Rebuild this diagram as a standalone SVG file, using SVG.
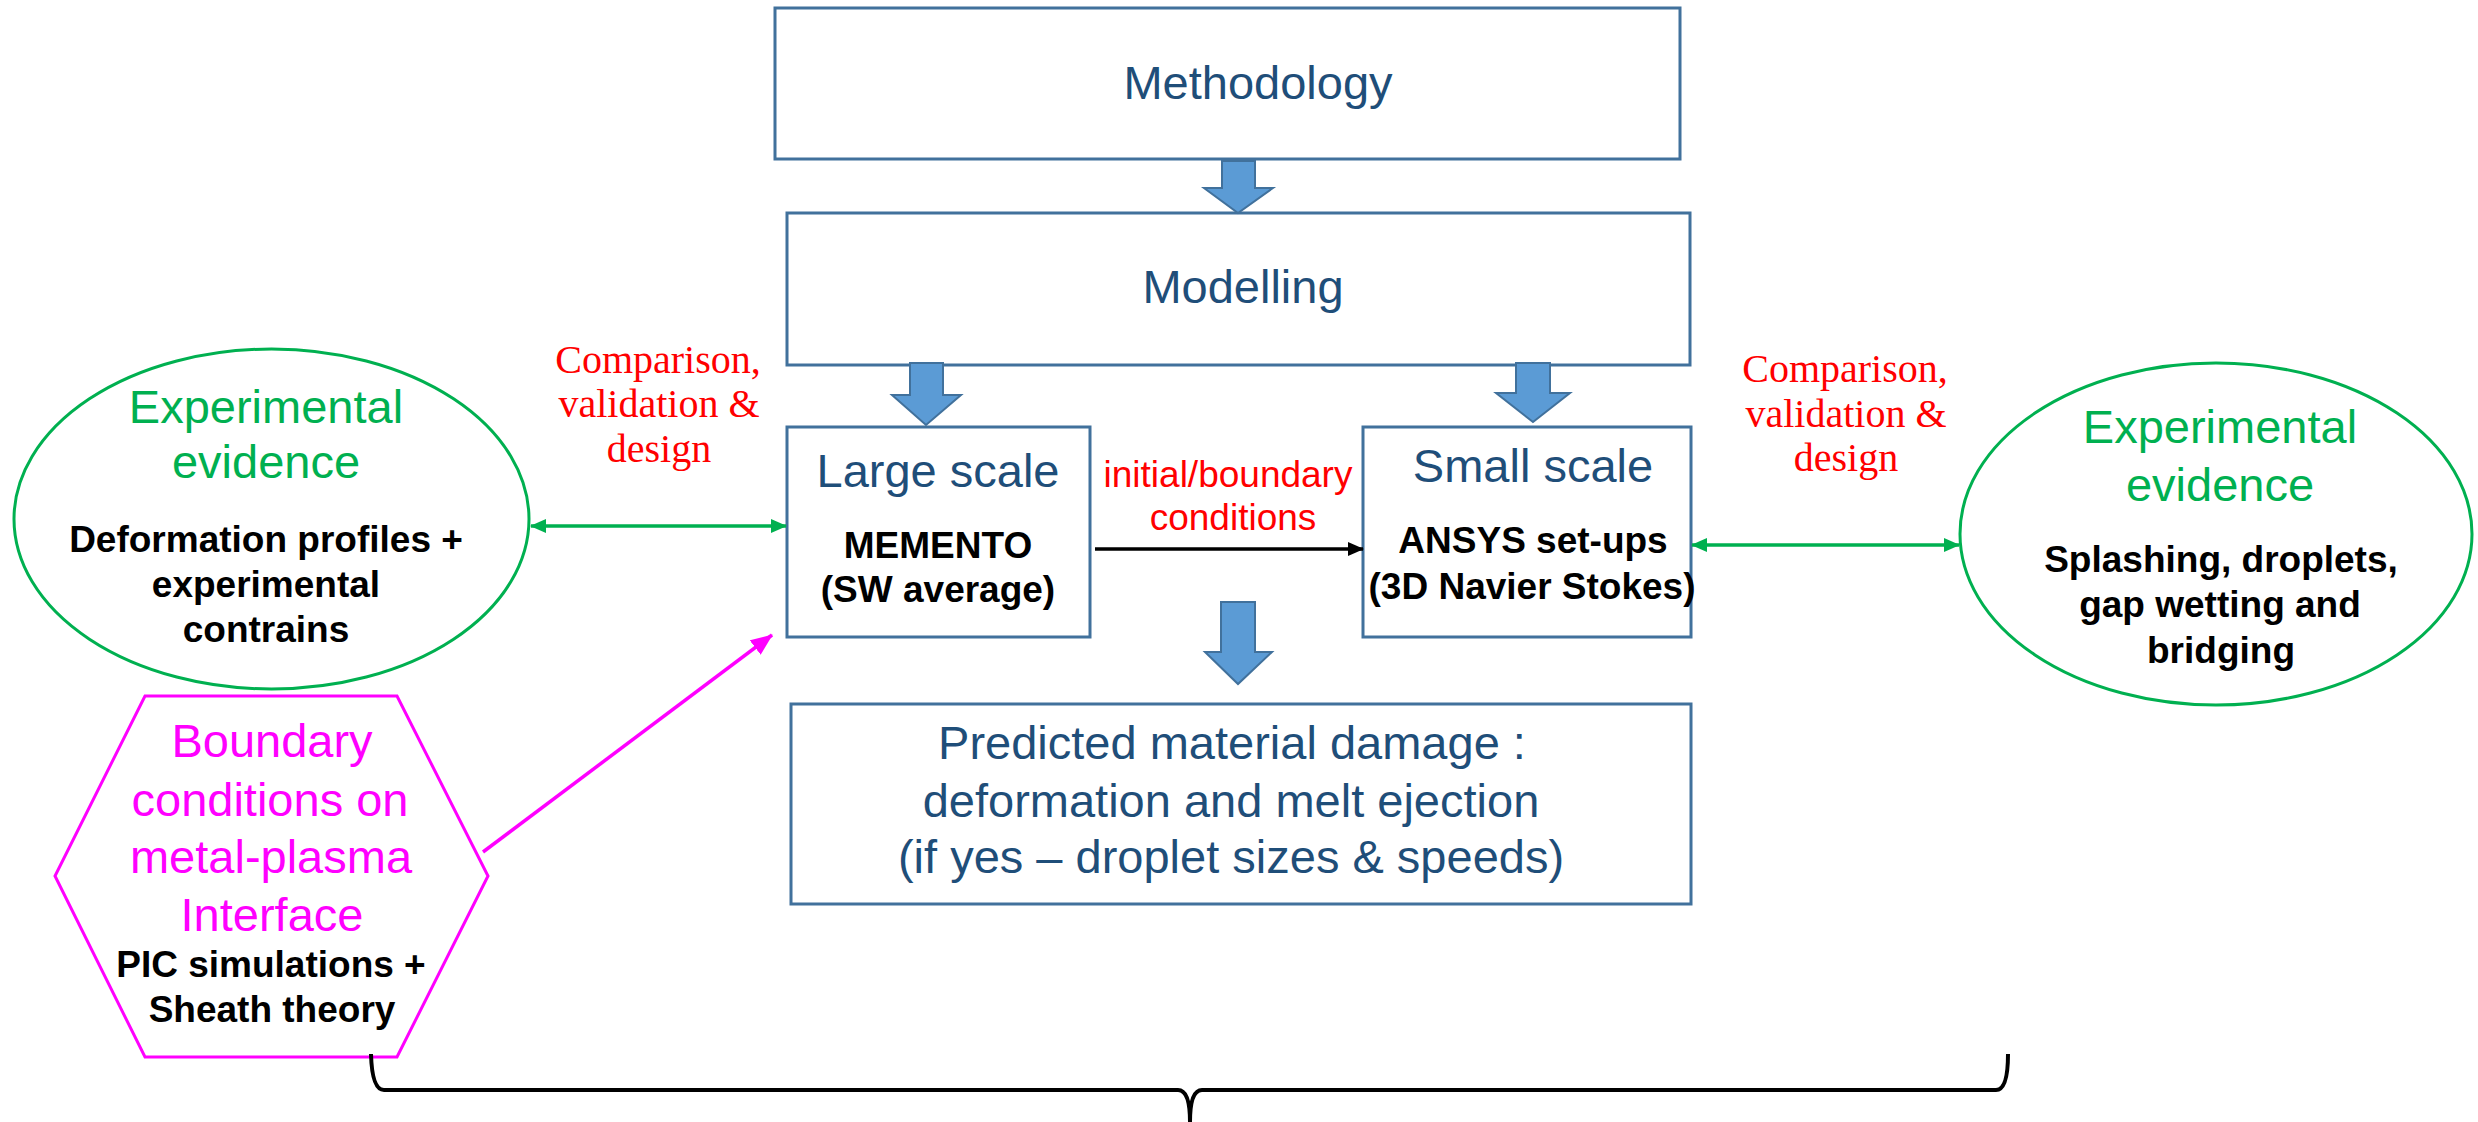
<svg xmlns="http://www.w3.org/2000/svg" width="2478" height="1122" viewBox="0 0 2478 1122">
<style>
.box{fill:#fff;stroke:#41719C;stroke-width:3}
.blk{fill:#5B9BD5;stroke:#41719C;stroke-width:2}
.t{font-family:"Liberation Sans",Arial,sans-serif;text-anchor:middle}
.blue{fill:#1F4E79;font-size:47px}
.bold{font-weight:bold;fill:#000;font-size:37px}
.green{fill:#00B050;font-size:47px}
.mag{fill:#FF00FF;font-size:47px}
.red{fill:#FF0000;font-size:37px}
.serif{font-family:"Liberation Serif","Times New Roman",serif;fill:#FF0000;font-size:40px;text-anchor:middle}
.gline{stroke:#00B050;stroke-width:3.5;fill:none}
</style>
<defs>
<marker id="gh" markerUnits="userSpaceOnUse" markerWidth="16" markerHeight="14" refX="15" refY="7" orient="auto-start-reverse"><path d="M0,0 L16,7 L0,14 Z" fill="#00B050"/></marker>
<marker id="kh" markerUnits="userSpaceOnUse" markerWidth="16" markerHeight="14" refX="15" refY="7" orient="auto"><path d="M0,0 L16,7 L0,14 Z" fill="#000"/></marker>
<marker id="mh" markerUnits="userSpaceOnUse" markerWidth="22" markerHeight="18" refX="21" refY="9" orient="auto"><path d="M0,0 L22,9 L0,18 Z" fill="#FF00FF"/></marker>
</defs>
<rect width="2478" height="1122" fill="#fff"/>

<g id="methodology">
<rect class="box" x="775" y="8" width="905" height="151"/>
<text class="t blue" x="1258" y="99">Methodology</text>
</g>

<g id="modelling">
<rect class="box" x="787" y="213" width="903" height="152"/>
<text class="t blue" x="1243" y="303">Modelling</text>
</g>

<g id="large-scale">
<rect class="box" x="787" y="427" width="303" height="210"/>
<text class="t blue" x="938" y="487">Large scale</text>
<text class="t bold" x="938" y="558">MEMENTO</text>
<text class="t bold" x="938" y="602">(SW average)</text>
</g>

<g id="small-scale">
<rect class="box" x="1363" y="427" width="328" height="210"/>
<text class="t blue" x="1533" y="482">Small scale</text>
<text class="t bold" x="1533" y="553">ANSYS set-ups</text>
<text class="t bold" x="1532" y="599">(3D Navier Stokes)</text>
</g>

<g id="predicted">
<rect class="box" x="791" y="704" width="900" height="200"/>
<text class="t blue" x="1232" y="759">Predicted material damage :</text>
<text class="t blue" x="1231" y="817">deformation and melt ejection</text>
<text class="t blue" x="1231" y="873">(if yes – droplet sizes &amp; speeds)</text>
</g>

<g id="exp-left">
<ellipse cx="271.5" cy="519" rx="257.5" ry="170" fill="#fff" stroke="#00B050" stroke-width="3"/>
<text class="t green" x="266" y="423">Experimental</text>
<text class="t green" x="266" y="478">evidence</text>
<text class="t bold" x="266" y="552">Deformation profiles +</text>
<text class="t bold" x="266" y="597">experimental</text>
<text class="t bold" x="266" y="642">contrains</text>
</g>

<g id="exp-right">
<ellipse cx="2216" cy="534" rx="256" ry="171" fill="#fff" stroke="#00B050" stroke-width="3"/>
<text class="t green" x="2220" y="443">Experimental</text>
<text class="t green" x="2220" y="501">evidence</text>
<text class="t bold" x="2221" y="572">Splashing, droplets,</text>
<text class="t bold" x="2220" y="617">gap wetting and</text>
<text class="t bold" x="2221" y="663">bridging</text>
</g>

<g id="boundary">
<polygon points="145,696 397,696 488,876 397,1057 145,1057 55,876" fill="#fff" stroke="#FF00FF" stroke-width="3"/>
<text class="t mag" x="272" y="757">Boundary</text>
<text class="t mag" x="270" y="816">conditions on</text>
<text class="t mag" x="271" y="873">metal-plasma</text>
<text class="t mag" x="272" y="931">Interface</text>
<text class="t bold" x="271" y="977">PIC simulations +</text>
<text class="t bold" x="272" y="1022">Sheath theory</text>
</g>

<g id="label-left">
<text class="serif" x="658" y="373">Comparison,</text>
<text class="serif" x="659" y="417">validation &amp;</text>
<text class="serif" x="659" y="462">design</text>
</g>
<g id="label-right">
<text class="serif" x="1845" y="382">Comparison,</text>
<text class="serif" x="1846" y="427">validation &amp;</text>
<text class="serif" x="1846" y="471">design</text>
</g>
<g id="label-mid">
<text class="t red" x="1228" y="487">initial/boundary</text>
<text class="t red" x="1233" y="530">conditions</text>
</g>

<g id="brace">
<path d="M371,1054 Q372,1090 384,1090 L1178,1090 Q1190,1090 1190,1122 Q1190,1090 1202,1090 L1996,1090 Q2008,1090 2008,1054" fill="none" stroke="#000" stroke-width="4"/>
</g>

<g id="connectors">
<polygon class="blk" points="1222,161 1255,161 1255,188 1273,188 1238,213 1204,188 1222,188"/>
<polygon class="blk" points="910,363 943,363 943,395 961,395 926,425 892,395 910,395"/>
<polygon class="blk" points="1516,363 1550,363 1550,393 1570,393 1533,422 1496,393 1516,393"/>
<polygon class="blk" points="1221,602 1255,602 1255,652 1272,652 1238,684 1205,652 1221,652"/>
<line x1="1095" y1="549" x2="1363" y2="549" stroke="#000" stroke-width="3.5" marker-end="url(#kh)"/>
<line class="gline" x1="531" y1="526" x2="786" y2="526" marker-start="url(#gh)" marker-end="url(#gh)"/>
<line class="gline" x1="1692" y1="545" x2="1959" y2="545" marker-start="url(#gh)" marker-end="url(#gh)"/>
<line x1="483" y1="852" x2="772" y2="635" stroke="#FF00FF" stroke-width="3.5" marker-end="url(#mh)"/>
</g>
</svg>
